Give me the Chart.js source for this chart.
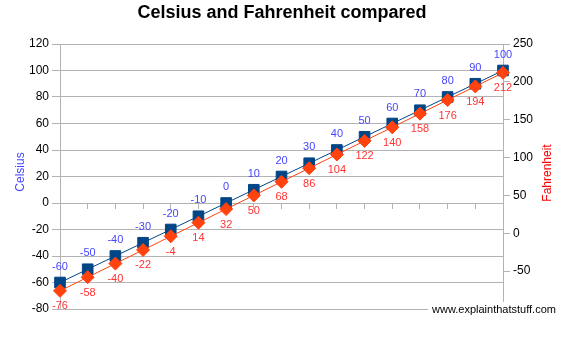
<!DOCTYPE html>
<html>
<head>
<meta charset="utf-8">
<script src="https://cdn.jsdelivr.net/npm/chart.js@4/dist/chart.umd.min.js"></script>
<style>
  html, body { margin: 0; padding: 0; background: #ffffff; }
  #wrap { width: 570px; height: 340px; }
</style>
</head>
<body>
<div id="wrap"><canvas id="c" width="570" height="340"></canvas></div>
<script>
// Paired readings: each Celsius value and its Fahrenheit equivalent
const steps = ['1','2','3','4','5','6','7','8','9','10','11','12','13','14','15','16','17'];
const celsius = [-60, -50, -40, -30, -20, -10, 0, 10, 20, 30, 40, 50, 60, 70, 80, 90, 100];
const fahrenheit = [-76, -58, -40, -22, -4, 14, 32, 50, 68, 86, 104, 122, 140, 158, 176, 194, 212];

// Axis ranges
const celsiusRange = [-80, 120, 20];
const fahrenheitRange = [-100, 250, 50];

const FONT = '"Liberation Sans", Arial, sans-serif';
const GRID = '#b3b3b3';
const BLUE_TEXT = '#4646ff';
const RED_TEXT = '#ff3333';

// Value labels above (Celsius) and below (Fahrenheit) each point
const valueLabels = {
  id: 'valueLabels',
  afterDatasetsDraw(chart) {
    const ctx = chart.ctx;
    ctx.save();
    ctx.font = '11px ' + FONT;
    ctx.textAlign = 'center';
    ctx.textBaseline = 'middle';
    chart.data.datasets.forEach((ds, i) => {
      const meta = chart.getDatasetMeta(i);
      const above = ds.label === 'Celsius';
      ctx.fillStyle = above ? BLUE_TEXT : RED_TEXT;
      meta.data.forEach((pt, j) => {
        ctx.fillText(String(ds.data[j]), pt.x, above ? pt.y - 16 : pt.y + 15.5);
      });
    });
    ctx.restore();
  }
};

// Title, axis captions and the site credit
const decorations = {
  id: 'decorations',
  afterDraw(chart) {
    const ctx = chart.ctx;
    ctx.save();
    ctx.textAlign = 'center';
    ctx.textBaseline = 'middle';
    ctx.fillStyle = '#000000';
    ctx.font = 'bold 18px ' + FONT;
    ctx.fillText('Celsius and Fahrenheit compared', 282, 13);

    ctx.font = '12px ' + FONT;
    ctx.save();
    ctx.translate(21, 172);
    ctx.rotate(-Math.PI / 2);
    ctx.fillStyle = BLUE_TEXT;
    ctx.fillText('Celsius', 0, 0);
    ctx.restore();

    ctx.save();
    ctx.translate(548, 173);
    ctx.rotate(-Math.PI / 2);
    ctx.fillStyle = '#ff0000';
    ctx.fillText('Fahrenheit', 0, 0);
    ctx.restore();

    ctx.fillStyle = '#ffffff';
    ctx.fillRect(428, 302, 132, 15);
    ctx.fillStyle = '#000000';
    ctx.font = '11px ' + FONT;
    ctx.textAlign = 'left';
    ctx.fillText('www.explainthatstuff.com', 432, 309.5);
    ctx.restore();
  }
};

new Chart(document.getElementById('c'), {
  type: 'line',
  data: {
    labels: steps,
    datasets: [
      {
        label: 'Celsius',
        data: celsius,
        yAxisID: 'y',
        order: 1,
        borderColor: '#004586',
        borderWidth: 1,
        backgroundColor: '#004586',
        pointStyle: 'rect',
        pointRadius: 7.5,
        pointBorderWidth: 1,
        pointBorderColor: '#004586',
        pointBackgroundColor: '#004586',
        tension: 0,
        clip: false
      },
      {
        label: 'Fahrenheit',
        data: fahrenheit,
        yAxisID: 'y1',
        order: 0,
        borderColor: '#ff420e',
        borderWidth: 1,
        backgroundColor: '#ff420e',
        pointStyle: 'rectRot',
        pointRadius: 6.5,
        pointBorderWidth: 1,
        pointBorderColor: '#ff420e',
        pointBackgroundColor: '#ff420e',
        tension: 0,
        clip: false
      }
    ]
  },
  options: {
    responsive: false,
    animation: false,
    devicePixelRatio: 1,
    layout: { padding: { top: 44, bottom: 31, left: 0, right: 0 } },
    plugins: {
      legend: { display: false },
      title: { display: false },
      tooltip: { enabled: false }
    },
    scales: {
      x: {
        type: 'category',
        offset: false,
        position: { y: 0 },
        grid: { display: true, drawOnChartArea: false, drawTicks: true, tickLength: 5, color: GRID },
        border: { display: true, color: GRID },
        ticks: { display: false }
      },
      y: {
        position: 'left',
        min: celsiusRange[0],
        max: celsiusRange[1],
        afterFit(s) { s.width = 60; },
        ticks: { stepSize: celsiusRange[2], color: '#000000', padding: 3, font: { family: FONT, size: 12 } },
        grid: { color: GRID, tickLength: 8, drawTicks: true },
        border: { display: true, color: GRID }
      },
      y1: {
        position: 'right',
        min: fahrenheitRange[0],
        max: fahrenheitRange[1],
        afterFit(s) { s.width = 67; },
        ticks: {
          stepSize: fahrenheitRange[2],
          color: '#000000',
          padding: 3,
          font: { family: FONT, size: 12 },
          callback: v => (v === fahrenheitRange[0] ? '' : v)
        },
        grid: { drawOnChartArea: false, color: GRID, tickLength: 7, drawTicks: true },
        border: { display: true, color: GRID }
      }
    }
  },
  plugins: [valueLabels, decorations]
});
</script>
</body>
</html>
